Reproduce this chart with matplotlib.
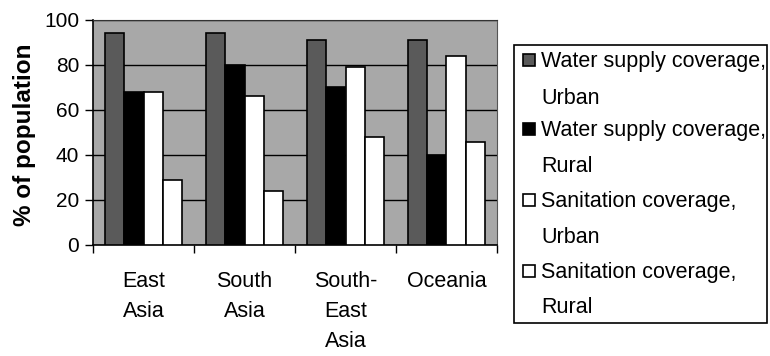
import matplotlib.pyplot as plt
from matplotlib.patches import Rectangle
import numpy as np

plt.rcParams['font.family'] = ['Liberation Sans', 'DejaVu Sans']

regions = ["East\nAsia", "South\nAsia", "South-\nEast\nAsia", "Oceania"]
water_urban = [94, 94, 91, 91]
water_rural = [68, 80, 70, 40]
san_urban = [68, 66, 79, 84]
san_rural = [29, 24, 48, 46]

labels = [("Water supply coverage,", "Urban"),
          ("Water supply coverage,", "Rural"),
          ("Sanitation coverage,", "Urban"),
          ("Sanitation coverage,", "Rural")]
values = [water_urban, water_rural, san_urban, san_rural]
colors = ['#5a5a5a', '#000000', '#ffffff', '#ffffff']

W, H = 770, 356
fig = plt.figure(figsize=(W / 100, H / 100), dpi=100)
ax = fig.add_axes([93 / W, 1 - 245 / H, 404 / W, 225 / H])
ax.set_facecolor('#a8a8a8')

x = np.arange(len(regions))
w = 0.19
for i in range(4):
    ax.bar(x + (i - 1.5) * w, values[i], width=w, color=colors[i],
           edgecolor='black', linewidth=1.2, zorder=3)

ax.set_xlim(-0.5, len(regions) - 0.5)
ax.set_ylim(0, 100)
ax.set_yticks(range(0, 101, 20))
ax.yaxis.grid(True, color='black', linewidth=1.0, zorder=1)
ax.set_axisbelow(True)

ax.set_xticks(x)
ax.set_xticklabels(regions, fontsize=15.5, linespacing=1.55)
ax.tick_params(axis='x', which='major', length=0, pad=19)
ax.set_xticks(np.arange(len(regions) + 1) - 0.5, minor=True)
ax.tick_params(axis='x', which='minor', length=6, width=1)
ax.tick_params(axis='y', labelsize=15, length=6, width=1, pad=4)
ax.set_ylabel("% of population", fontsize=17.5, fontweight='bold')
ax.yaxis.set_label_coords(-0.14, 0.49)

ax.spines['top'].set_color('#333333')
ax.spines['right'].set_color('#555555')
for s in ['left', 'bottom']:
    ax.spines[s].set_linewidth(1.2)


def fx(px):
    return px / W


def fy(py):
    return 1 - py / H


# legend drawn by hand so the swatch sits on the first text line
fig.patches.append(Rectangle((fx(514), fy(323)), fx(767) - fx(514), fy(45) - fy(323),
                             transform=fig.transFigure, facecolor='white',
                             edgecolor='black', linewidth=1.2))
baselines = [(67, 104), (136, 172), (207, 243), (278, 313)]
for i in range(4):
    b1, b2 = baselines[i]
    fig.patches.append(Rectangle((fx(523), fy(b1 - 1)), fx(12), 12 / H,
                                 transform=fig.transFigure, facecolor=colors[i],
                                 edgecolor='black', linewidth=1.2))
    fig.text(fx(541), fy(b1), labels[i][0], fontsize=15.5, va='baseline')
    fig.text(fx(541), fy(b2), labels[i][1], fontsize=15.5, va='baseline')

fig.savefig('out.png', dpi=100)
